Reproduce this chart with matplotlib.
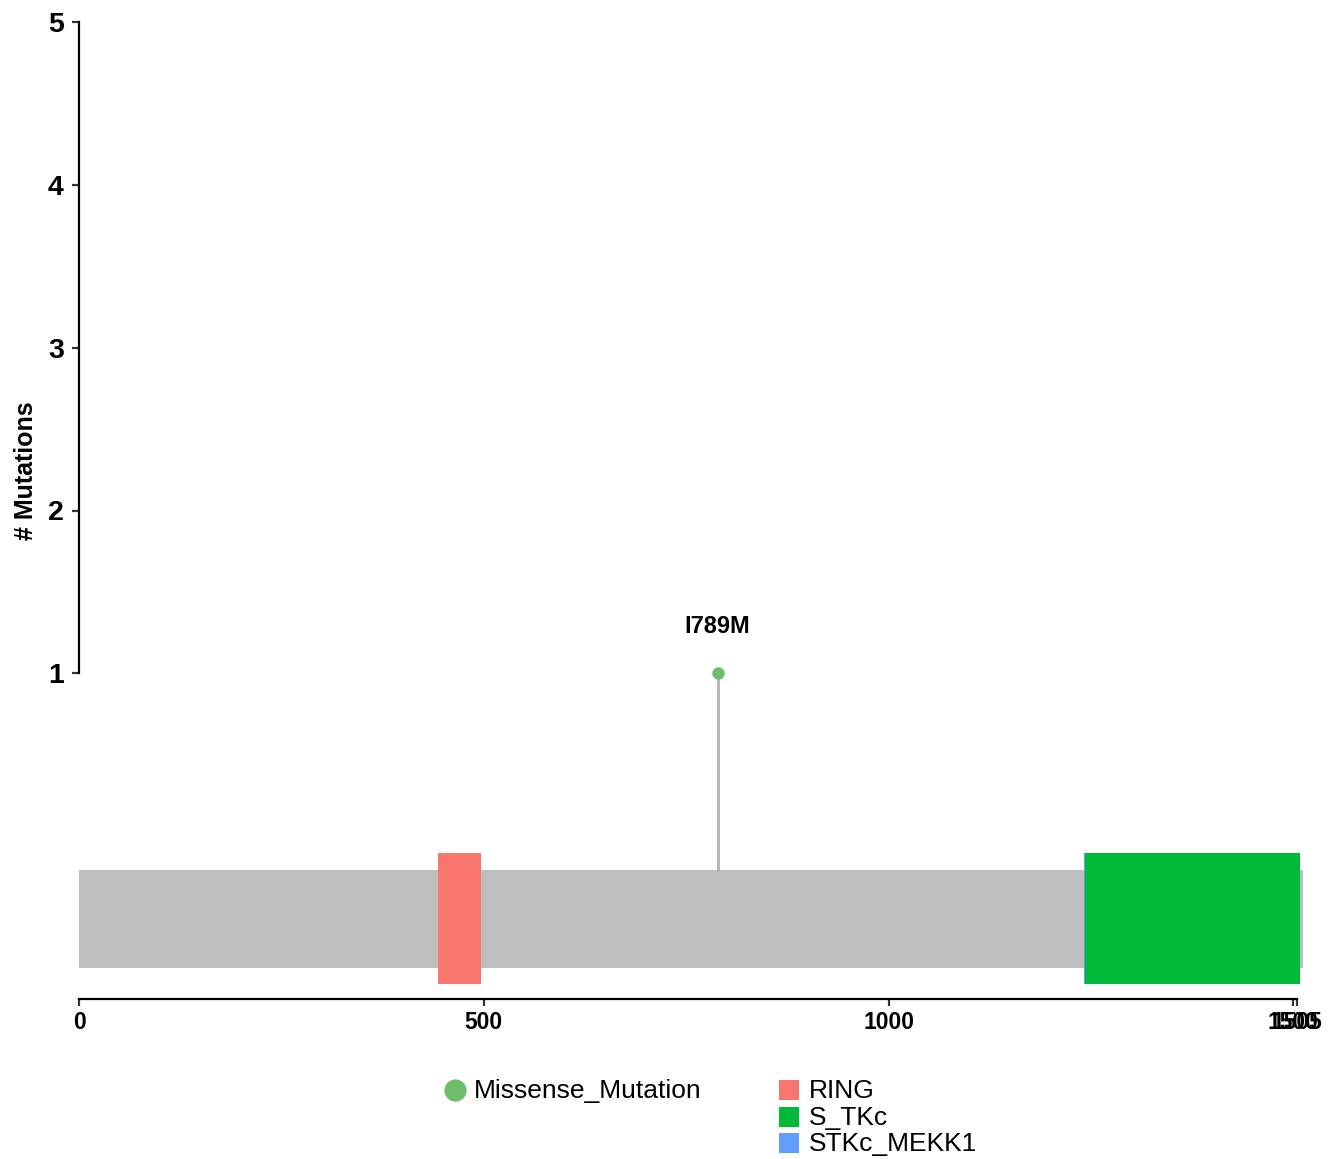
import matplotlib
matplotlib.use("Agg")
import matplotlib.pyplot as plt
from matplotlib.patches import Rectangle
from matplotlib.lines import Line2D

plt.rcParams['font.family'] = ['Liberation Sans', 'DejaVu Sans']

# protein and domains
protein_len = 1505
bar_end = 1512
domain_names = ['RING', 'S_TKc', 'STKc_MEKK1']
domain_start = [443, 1243, 1242]
domain_end = [496, 1508, 1500]
domain_colors = ['#F8766D', '#00BA38', '#619CFF']
draw_order = [0, 2, 1]

# mutations
mut_pos = [789]
mut_count = [1]
mut_label = ['I789M']
mut_type = 'Missense_Mutation'
mut_color = '#6DBE6A'

xticks = [0, 500, 1000, 1500, 1505]
yticks = [1, 2, 3, 4, 5]

W, H = 1335, 1159
fig = plt.figure(figsize=(W / 100, H / 100), dpi=100)
ax = fig.add_axes([79 / W, 1 - 999 / H, (1320 - 79) / W, (999 - 22) / H])
ax.set_xlim(0, 1533)
ax.set_ylim(-1, 5)

# backbone
ax.add_patch(Rectangle((0, -0.808), bar_end, 0.6, color='#BEBEBE', lw=0, zorder=1))

# domains
for i in draw_order:
    ax.add_patch(Rectangle((domain_start[i], -0.908), domain_end[i] - domain_start[i], 0.804,
                           color=domain_colors[i], lw=0, zorder=2))

# lollipops
for p, c, lab in zip(mut_pos, mut_count, mut_label):
    ax.plot([p, p], [-0.208, c], color='#B3B3B3', lw=2, zorder=3)
    ax.scatter([p], [c], s=80, color=mut_color, zorder=4, clip_on=False, linewidths=0)
    ax.text(p, c + 0.29, lab, ha='center', va='center', fontsize=17, fontweight='bold')

for s in ['top', 'right']:
    ax.spines[s].set_visible(False)
ax.spines['left'].set_bounds(1, 5)
ax.spines['bottom'].set_bounds(0, protein_len)
ax.spines['left'].set_linewidth(1.6)
ax.spines['bottom'].set_linewidth(1.6)
ax.set_yticks(yticks)
ax.set_yticklabels([str(v) for v in yticks], fontsize=20.5, fontweight='bold')
ax.set_xticks(xticks)
ax.set_xticklabels([str(v) for v in xticks], fontsize=16.5, fontweight='bold')
ax.tick_params(axis='both', length=5, width=1.6, color='#333333')
ax.tick_params(axis='y', pad=6)
ax.set_ylabel('# Mutations', fontsize=18, fontweight='bold')
ax.yaxis.set_label_coords(-41 / (1320 - 79), (999 - 471) / (999 - 22))


# legend drawn in figure pixels
def fx(px):
    return px / W


def fy(py):
    return 1 - py / H


fig.add_artist(Line2D([fx(455)], [fy(1090)], marker='o', ls='', color=mut_color,
                      markersize=16, markeredgewidth=0, transform=fig.transFigure))
fig.text(fx(474), fy(1091), mut_type, fontsize=19, va='center', ha='left')

row_y = [1090, 1116.5, 1143]
for name, col, y in zip(domain_names, domain_colors, row_y):
    fig.add_artist(Rectangle((fx(779), fy(y + 10)), fx(20), 20 / H, color=col, lw=0))
    fig.text(fx(809), fy(y + 1), name, fontsize=19, va='center', ha='left')

fig.savefig('out.png', dpi=100)
